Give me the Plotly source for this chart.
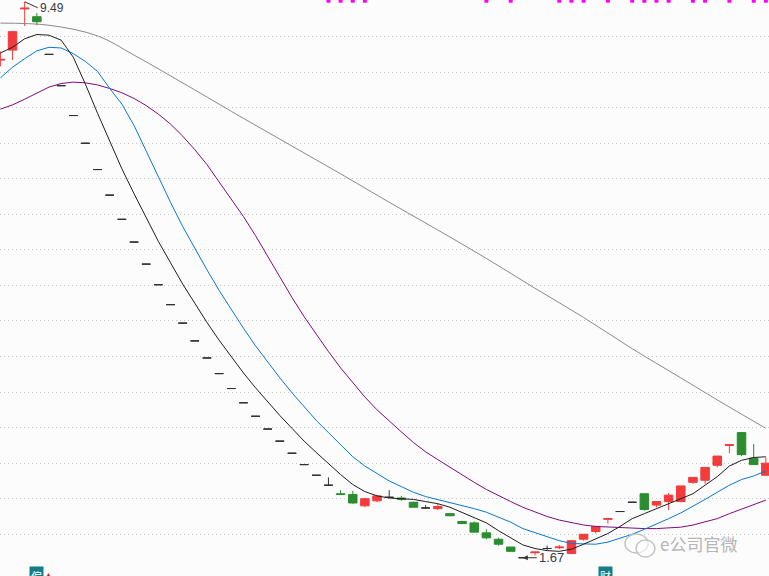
import plotly.graph_objects as go

# ---------------- data ----------------
bar_index = list(range(64))
opens = [8.67, 8.81, 9.39, 9.28, 8.75, 8.31, 7.89, 7.50, 7.13, 6.77,
         6.43, 6.11, 5.80, 5.51, 5.23, 4.97, 4.72, 4.48, 4.26, 4.05,
         3.85, 3.66, 3.48, 3.31, 3.14, 2.98, 2.83, 2.69, 2.57, 2.56,
         2.40, 2.47, 2.52, 2.51, 2.45, 2.37, 2.36, 2.29, 2.18, 2.16,
         2.02, 1.93, 1.82, 1.67, 1.74, 1.80, 1.81, 1.73, 1.93, 2.04,
         2.21, 2.32, 2.45, 2.57, 2.41, 2.46, 2.46, 2.73, 2.76, 2.97,
         3.25, 3.43, 3.07, 2.83]
highs = [8.79, 9.08, 9.49, 9.33, 8.75, 8.31, 7.89, 7.50, 7.13, 6.77,
         6.43, 6.11, 5.80, 5.51, 5.23, 4.97, 4.72, 4.48, 4.26, 4.05,
         3.85, 3.66, 3.48, 3.31, 3.14, 2.98, 2.83, 2.80, 2.62, 2.61,
         2.51, 2.55, 2.62, 2.54, 2.46, 2.41, 2.43, 2.30, 2.19, 2.18,
         2.07, 1.95, 1.82, 1.67, 1.75, 1.84, 1.85, 1.92, 2.00, 2.11,
         2.22, 2.32, 2.45, 2.57, 2.46, 2.58, 2.68, 2.80, 2.94, 3.10,
         3.26, 3.43, 3.27, 3.08]
lows = [8.58, 8.67, 9.15, 9.16, 8.75, 8.31, 7.89, 7.50, 7.13, 6.77,
        6.43, 6.11, 5.80, 5.51, 5.23, 4.97, 4.72, 4.48, 4.26, 4.05,
        3.85, 3.66, 3.48, 3.31, 3.14, 2.98, 2.83, 2.69, 2.56, 2.43,
        2.38, 2.45, 2.51, 2.47, 2.38, 2.36, 2.34, 2.26, 2.15, 2.03,
        1.93, 1.84, 1.76, 1.67, 1.70, 1.78, 1.79, 1.72, 1.91, 2.01,
        2.15, 2.32, 2.45, 2.33, 2.38, 2.34, 2.45, 2.71, 2.71, 2.94,
        3.14, 3.10, 2.98, 2.83]
closes = [8.68, 9.07, 9.40, 9.21, 8.75, 8.31, 7.89, 7.50, 7.13, 6.77,
          6.43, 6.11, 5.80, 5.51, 5.23, 4.97, 4.72, 4.48, 4.26, 4.05,
          3.85, 3.66, 3.48, 3.31, 3.14, 2.98, 2.83, 2.69, 2.56, 2.44,
          2.50, 2.54, 2.52, 2.49, 2.38, 2.37, 2.39, 2.26, 2.15, 2.03,
          1.95, 1.86, 1.76, 1.67, 1.75, 1.80, 1.82, 1.91, 2.00, 2.11,
          2.22, 2.32, 2.45, 2.35, 2.46, 2.55, 2.68, 2.80, 2.94, 3.10,
          3.26, 3.12, 2.98, 3.00]

ma5 = [8.77, 8.85, 8.97, 9.03, 9.02, 8.95, 8.71, 8.33, 7.92, 7.52,
       7.14, 6.79, 6.45, 6.12, 5.82, 5.52, 5.25, 4.98, 4.73, 4.50,
       4.27, 4.06, 3.86, 3.67, 3.49, 3.31, 3.15, 2.99, 2.84, 2.70,
       2.60, 2.54, 2.51, 2.50, 2.49, 2.46, 2.43, 2.38, 2.31, 2.24,
       2.16, 2.05, 1.95, 1.85, 1.80, 1.77, 1.76, 1.79, 1.86, 1.93,
       2.01, 2.11, 2.22, 2.29, 2.36, 2.42, 2.50, 2.57, 2.69, 2.81,
       2.96, 3.04, 3.08, 3.09]
ma10 = [8.42, 8.57, 8.69, 8.80, 8.85, 8.84, 8.76, 8.65, 8.51, 8.27,
        8.05, 7.75, 7.39, 7.02, 6.67, 6.33, 6.02, 5.72, 5.43, 5.16,
        4.90, 4.65, 4.42, 4.20, 3.99, 3.79, 3.60, 3.43, 3.26, 3.09,
        2.96, 2.85, 2.75, 2.67, 2.59, 2.53, 2.49, 2.45, 2.40, 2.36,
        2.31, 2.24, 2.17, 2.08, 2.02, 1.96, 1.91, 1.87, 1.86, 1.86,
        1.89, 1.94, 2.00, 2.07, 2.14, 2.22, 2.30, 2.39, 2.49, 2.59,
        2.69, 2.77, 2.82, 2.89]
ma20 = [7.98, 8.04, 8.12, 8.21, 8.29, 8.34, 8.36, 8.35, 8.32, 8.27,
        8.21, 8.13, 8.03, 7.91, 7.77, 7.60, 7.41, 7.20, 6.96, 6.71,
        6.47, 6.20, 5.91, 5.61, 5.33, 5.06, 4.81, 4.57, 4.34, 4.13,
        3.93, 3.75, 3.59, 3.44, 3.29, 3.16, 3.05, 2.94, 2.83, 2.73,
        2.63, 2.54, 2.46, 2.38, 2.31, 2.25, 2.20, 2.16, 2.13, 2.11,
        2.10, 2.09, 2.08, 2.08, 2.08, 2.09, 2.10, 2.13, 2.17, 2.22,
        2.29, 2.35, 2.41, 2.48]
ma60_index = [0, 4, 8, 11, 16, 20, 24, 28, 32, 36, 40, 44, 48, 52, 56, 59, 63]
ma60 = [9.19, 9.16, 9.01, 8.74, 8.25, 7.85, 7.46, 7.07, 6.67, 6.28,
        5.88, 5.46, 5.05, 4.61, 4.20, 3.89, 3.49]

grid_prices = [2.0, 2.5, 3.0, 3.5, 4.0, 4.5, 5.0, 5.5, 6.0, 6.5, 7.0, 7.5, 8.0, 8.5, 9.0]
signal_bars = [27, 28, 29, 30, 40, 42, 46, 47, 48, 50, 52, 53, 54, 55, 57, 58, 60, 62, 63]
high_label = "9.49"
low_label = "1.67"
high_bar = 2
low_bar = 43

# ---------------- styling ----------------
RED = "#f43b3b"
GREEN = "#2b8c30"
FLAT = "#303030"
W, H = 769, 576
X0, X1 = -0.033, 63.26
Y0, Y1 = 1.413, 9.515


def candles(idx, color):
    return go.Candlestick(
        x=idx,
        open=[opens[i] for i in idx],
        high=[highs[i] for i in idx],
        low=[lows[i] for i in idx],
        close=[closes[i] for i in idx],
        increasing=dict(line=dict(color=color, width=1), fillcolor=color),
        decreasing=dict(line=dict(color=color, width=1), fillcolor=color),
        whiskerwidth=0,
        hoverinfo="skip",
        showlegend=False,
    )


up = [i for i in bar_index if closes[i] > opens[i]]
dn = [i for i in bar_index if closes[i] < opens[i]]
fl = [i for i in bar_index if closes[i] == opens[i]]

fig = go.Figure()
for xs, ys, col, shape in [
    (ma60_index, ma60, "#8a8a8a", "spline"),
    (bar_index, ma20, "#800a80", "linear"),
    (bar_index, ma10, "#0877d4", "linear"),
    (bar_index, ma5, "#1e1e1e", "linear"),
]:
    fig.add_trace(go.Scatter(x=xs, y=ys, mode="lines",
                             line=dict(color=col, width=1, shape=shape),
                             hoverinfo="skip", showlegend=False))

fig.add_trace(candles(fl, FLAT))
fig.add_trace(candles(up, RED))
fig.add_trace(candles(dn, GREEN))

fig.add_trace(go.Scatter(x=signal_bars, y=[Y1 - 0.01] * len(signal_bars), mode="markers",
                         marker=dict(symbol="square", size=4, color="#ff00ff"),
                         hoverinfo="skip", showlegend=False))

fig.add_annotation(x=high_bar, y=highs[high_bar], text=high_label, showarrow=True,
                   arrowhead=0, arrowwidth=1, arrowcolor="#333333", ax=13, ay=6,
                   xanchor="left", yanchor="middle",
                   font=dict(family="Arial, Liberation Sans", size=12, color="#3a3a46"))
fig.add_annotation(x=low_bar, y=lows[low_bar], text=low_label, showarrow=True,
                   arrowhead=2, arrowsize=1, arrowwidth=1, arrowcolor="#333333",
                   ax=14, ay=0, xanchor="left", yanchor="middle",
                   font=dict(family="Arial, Liberation Sans", size=13, color="#3a3a46"))

# info badges at the bottom (cut by the lower edge, as in the original)
for xb, txt in [(36.5, "偏"), (605.5, "财")]:
    fig.add_annotation(xref="paper", yref="paper", x=xb / W, y=1 - 566 / H,
                       xanchor="center", yanchor="top", text=txt, showarrow=False,
                       bgcolor="#137d88", borderpad=1,
                       font=dict(family="Noto Sans CJK SC", size=11, color="white"))
fig.add_annotation(xref="paper", yref="paper", x=48.5 / W, y=1 - 568 / H,
                   xanchor="center", yanchor="top", text="▲", showarrow=False,
                   font=dict(size=7, color="#d01010"))

# watermark
fig.add_annotation(xref="paper", yref="paper", x=658 / W, y=1 - 543.5 / H,
                   xanchor="left", yanchor="middle", text="e公司官微", showarrow=False,
                   font=dict(family="Noto Sans CJK SC", size=17, color="#b5b5b5"))
for x0, y0, x1, y1 in [(625, 534, 648, 553), (636, 540, 655, 557)]:
    fig.add_shape(type="circle", xref="paper", yref="paper",
                  x0=x0 / W, x1=x1 / W, y0=1 - y1 / H, y1=1 - y0 / H,
                  line=dict(color="#c4c4c4", width=1.5), fillcolor="rgba(255,255,255,0.6)")

fig.update_layout(
    width=W, height=H,
    margin=dict(l=0, r=0, t=0, b=0),
    paper_bgcolor="#fcfcfc", plot_bgcolor="#fcfcfc",
    showlegend=False,
    boxmode="overlay", boxgap=0.3, boxgroupgap=0,
    xaxis=dict(range=[X0, X1], showgrid=False, zeroline=False, showticklabels=False,
               rangeslider=dict(visible=False), fixedrange=True),
    yaxis=dict(range=[Y0, Y1], tickmode="array", tickvals=grid_prices, showticklabels=False,
               showgrid=True, gridcolor="#c4c4c4", gridwidth=1, griddash="1px,3px",
               zeroline=False, fixedrange=True),
)

fig.write_html("out.html", config={"displayModeBar": False},
               post_script="document.body.style.margin='0';document.body.style.overflow='hidden';")
